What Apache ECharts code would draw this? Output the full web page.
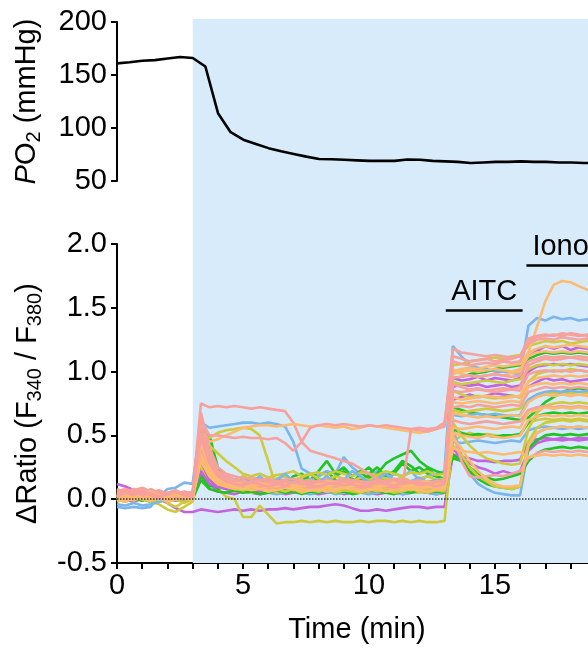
<!DOCTYPE html>
<html>
<head>
<meta charset="utf-8">
<title>PO2 and calcium ratio traces</title>
<script src="https://cdn.jsdelivr.net/npm/echarts/dist/echarts.min.js"></script>
<style>
  html, body { margin: 0; padding: 0; overflow: hidden; background: #fff; }
  #chart { width: 640px; height: 648px; }
</style>
</head>
<body>
<div id="chart"></div>
<script>
// oxygen trace (top panel)
const poTime = [0,0.5,1,1.5,2,2.5,3,3.5,4,4.5,5,5.5,6,6.5,7,7.5,8,8.5,9,9.5,10,10.5,11,11.5,12,12.5,13,13.5,14,14.5,15,15.5,16,16.5,17,17.5,18,18.5,19];
const poValue = [161,162,163.5,164,165.5,167,166,158,114,96,89,85,81,78,75.5,73,70.7,70.5,70,69.5,69,69,69,70.3,70,69,68.5,68,67,67.5,68,68,68.5,68,68,67.5,67.5,67,67];

// sample times of the ratio traces (min)
const time = [0,0.33,0.67,1,1.33,1.67,2,2.33,2.67,3,
  3.33,3.67,4,4.33,4.67,5,5.33,5.67,6,6.33,
  6.67,7,7.33,7.67,8,8.33,8.67,9,9.33,9.67,
  10,10.33,10.67,11,11.33,11.67,12,12.33,12.67,13,
  13.33,13.67,14,14.33,14.67,15,15.33,15.67,16,
  16.33,16.67,17,17.33,17.67,18,18.33,18.67,19];

// one array per cell
const blue1 = [-0.06,-0.07,-0.06,-0.07,-0.06,0.02,0.08,0.09,0.13,0.12,
  0.6,0.56,0.57,0.58,0.59,0.6,0.6,0.59,0.6,0.59,
  0.57,0.45,0.24,0.2,0.18,0.22,0.2,0.33,0.25,0.2,
  0.17,0.22,0.15,0.2,0.18,0.22,0.15,0.18,0.2,0.22,
  1.2,1.12,1.05,1.03,1.02,1.0,1.0,0.99,0.98,
  1.36,1.42,1.4,1.43,1.41,1.42,1.4,1.41,1.4];
const orange2 = [0.02,0.03,0.01,0.02,0,0.03,0.02,0.01,0.03,0.02,
  0.32,0.2,0.15,0.12,0.1,0.12,0.1,0.09,0.11,0.1,
  0.12,0.1,0.08,0.1,0.12,0.1,0.09,0.11,0.1,0.12,
  0.1,0.08,0.1,0.11,0.09,0.1,0.12,0.1,0.11,0.12,
  1.0,1.02,1.03,1.02,1.04,1.05,1.04,1.05,1.06,
  1.15,1.35,1.55,1.68,1.71,1.7,1.67,1.64,1.63];
const pink3 = [0.04,0.06,0.08,0.05,0.03,0.06,0.04,0.02,0.05,0.03,
  0.75,0.72,0.73,0.72,0.73,0.72,0.71,0.72,0.71,0.7,
  0.69,0.6,0.45,0.38,0.36,0.34,0.32,0.3,0.28,0.24,
  0.2,0.16,0.13,0.12,0.1,0.12,0.1,0.11,0.09,0.1,
  0.9,0.88,0.86,0.87,0.85,0.86,0.87,0.86,0.88,
  1.05,1.08,1.1,1.09,1.1,1.11,1.1,1.09,1.1];
const orange4 = [0,0.01,-0.01,0.02,0,0.01,-0.02,0,0.01,0,
  0.5,0.45,0.47,0.5,0.53,0.56,0.57,0.58,0.58,0.57,
  0.58,0.59,0.58,0.57,0.58,0.57,0.56,0.57,0.55,0.56,
  0.58,0.57,0.56,0.55,0.54,0.53,0.52,0.53,0.55,0.58,
  1.02,0.98,0.97,0.96,0.97,0.98,0.97,0.99,1.0,
  1.15,1.18,1.2,1.19,1.2,1.21,1.2,1.19,1.2];
const pink5 = [0.02,0,0.03,0.05,0.02,0,0.03,0.01,0,0.02,
  0.4,0.25,0.18,0.15,0.12,0.1,0.12,0.1,0.11,0.09,
  0.1,0.12,0.1,0.09,0.1,0.11,0.1,0.12,0.1,0.09,
  0.1,0.11,0.1,0.09,0.1,0.55,0.56,0.55,0.56,0.6,
  1.12,1.1,1.08,1.09,1.1,1.08,1.09,1.1,1.12,
  1.22,1.25,1.26,1.25,1.27,1.26,1.25,1.26,1.25];
const pink6 = [0.06,0.08,0.05,0.07,0.04,0.06,0.03,0.05,0.04,0.06,
  0.62,0.5,0.5,0.49,0.48,0.49,0.48,0.48,0.47,0.48,
  0.44,0.38,0.45,0.56,0.58,0.59,0.58,0.59,0.58,0.57,
  0.58,0.57,0.58,0.57,0.56,0.55,0.54,0.53,0.55,0.57,
  1.18,1.15,1.14,1.13,1.12,1.13,1.12,1.11,1.12,
  1.26,1.28,1.29,1.28,1.3,1.29,1.28,1.29,1.28];
const yellow7 = [0,0.02,0.04,0.01,-0.02,0,0.03,0,-0.03,0,
  0.45,0.48,0.52,0.54,0.55,0.56,0.55,0.5,0.3,0.08,
  0.06,0.08,0.05,0.07,0.06,0.08,0.05,0.07,0.06,0.05,
  0.08,0.06,0.07,0.05,0.06,0.08,0.06,0.05,0.07,0.06,
  0.85,0.82,0.8,0.81,0.8,0.79,0.8,0.81,0.8,
  0.92,0.98,1.0,1.01,1.0,1.02,1.01,1.0,1.01];
const yellow8 = [0.03,0.01,0,0.02,-0.02,-0.04,-0.08,-0.1,-0.06,-0.02,
  0.3,0.15,0.08,0.02,0,-0.14,-0.14,-0.05,-0.12,-0.19,
  -0.18,-0.18,-0.17,-0.18,-0.17,-0.18,-0.17,-0.18,-0.18,-0.17,
  -0.18,-0.17,-0.17,-0.18,-0.17,-0.18,-0.17,-0.18,-0.18,-0.17,
  0.45,0.5,0.52,0.5,0.51,0.5,0.49,0.5,0.5,
  0.6,0.62,0.63,0.62,0.63,0.62,0.63,0.62,0.62];
const purple9 = [0.12,0.1,0.07,0.04,0.02,0,-0.03,-0.07,-0.1,-0.1,
  -0.08,-0.09,-0.1,-0.09,-0.08,-0.09,-0.08,-0.09,-0.08,-0.08,
  -0.07,-0.08,-0.07,-0.06,-0.06,-0.05,-0.04,-0.05,-0.07,-0.09,
  -0.09,-0.08,-0.09,-0.08,-0.07,-0.06,-0.06,-0.07,-0.06,-0.06,
  0.35,0.33,0.32,0.3,0.3,0.29,0.3,0.3,0.31,
  0.45,0.47,0.48,0.47,0.48,0.47,0.48,0.48,0.47];
const green10 = [0,0.02,-0.01,0.01,0.03,0,-0.02,0.01,0,0.02,
  0.55,0.5,0.25,0.15,0.12,0.1,0.13,0.1,0.12,0.15,
  0.12,0.18,0.2,0.15,0.22,0.3,0.2,0.25,0.18,0.22,
  0.15,0.2,0.28,0.32,0.35,0.38,0.3,0.25,0.22,0.2,
  0.55,0.52,0.5,0.51,0.5,0.49,0.5,0.5,0.51,
  0.6,0.65,0.67,0.68,0.67,0.68,0.67,0.68,0.67];
const green11 = [-0.01,0,0.02,0,-0.02,0.01,0,0.02,-0.01,0,
  0.2,0.12,0.08,0.1,0.06,0.08,0.1,0.05,0.08,0.12,
  0.15,0.1,0.08,0.12,0.18,0.22,0.15,0.1,0.12,0.2,
  0.25,0.18,0.15,0.2,0.28,0.22,0.25,0.2,0.18,0.15,
  0.32,0.3,0.25,0.2,0.17,0.15,0.16,0.18,0.2,
  0.3,0.36,0.39,0.4,0.41,0.4,0.41,0.4,0.4];
const blue12 = [0,-0.02,0.01,0,0.02,-0.01,0,0.02,0.01,0,
  0.4,0.25,0.15,0.12,0.1,0.08,0.1,0.09,0.08,0.1,
  0.09,0.08,0.1,0.09,0.08,0.1,0.09,0.1,0.08,0.09,
  0.1,0.08,0.09,0.1,0.08,0.09,0.1,0.08,0.09,0.1,
  0.55,0.35,0.2,0.12,0.08,0.05,0.04,0.03,0.03,
  0.4,0.52,0.55,0.56,0.55,0.56,0.55,0.56,0.55];
const purple13 = [0.02,0.05,0.03,0,0.02,0.04,0.01,0.03,0,0.02,
  0.55,0.3,0.2,0.18,0.15,0.16,0.14,0.15,0.13,0.14,
  0.15,0.13,0.12,0.14,0.13,0.12,0.14,0.13,0.12,0.13,
  0.14,0.12,0.13,0.12,0.14,0.13,0.12,0.13,0.14,0.12,
  0.88,0.9,0.89,0.9,0.88,0.89,0.9,0.88,0.89,
  1.0,1.04,1.05,1.06,1.05,1.06,1.05,1.04,1.05];
const purple14 = [0,0.03,0.01,-0.01,0.02,0,0.03,0.01,0.02,0,
  0.3,0.15,0.1,0.08,0.07,0.09,0.08,0.06,0.08,0.07,
  0.09,0.08,0.07,0.06,0.08,0.07,0.09,0.08,0.06,0.07,
  0.08,0.09,0.07,0.08,0.06,0.07,0.08,0.07,0.09,0.08,
  0.95,0.93,0.94,0.96,0.93,0.95,0.94,0.93,0.95,
  1.12,1.16,1.2,1.18,1.2,1.17,1.19,1.18,1.17];
const purple15 = [0.01,0,-0.02,0.01,0,0.02,0,-0.01,0.01,0,
  0.22,0.12,0.1,0.11,0.09,0.1,0.12,0.1,0.11,0.1,
  0.09,0.11,0.1,0.12,0.1,0.11,0.09,0.1,0.12,0.11,
  0.1,0.09,0.11,0.1,0.12,0.1,0.11,0.09,0.1,0.11,
  0.78,0.8,0.82,0.8,0.81,0.83,0.82,0.81,0.8,
  0.88,0.92,0.95,0.93,0.94,0.92,0.93,0.94,0.93];
const purple16 = [0.03,0,0.02,0.04,0.01,0,0.02,0.03,0,0.02,
  0.25,0.12,0.06,0.05,0.04,0.06,0.05,0.04,0.05,0.06,
  0.04,0.05,0.06,0.05,0.04,0.05,0.06,0.04,0.05,0.06,
  0.05,0.04,0.05,0.06,0.04,0.05,0.06,0.05,0.04,0.05,
  0.4,0.32,0.28,0.25,0.23,0.2,0.22,0.2,0.22,
  0.38,0.44,0.46,0.47,0.46,0.47,0.46,0.47,0.46];
const yellow17 = [0.02,0.04,0.01,0.03,0.05,0.02,0,0.04,0.02,0.01,
  0.35,0.2,0.14,0.12,0.1,0.11,0.12,0.1,0.13,0.11,
  0.12,0.1,0.11,0.13,0.12,0.1,0.11,0.12,0.1,0.11,
  0.13,0.12,0.1,0.11,0.12,0.1,0.11,0.13,0.12,0.12,
  1.05,1.06,1.08,1.09,1.1,1.11,1.1,1.12,1.13,
  1.2,1.22,1.24,1.23,1.24,1.22,1.23,1.24,1.23];
const yellow18 = [0.05,0.02,0,0.03,0.05,0.02,-0.02,0,0.03,0.01,
  0.3,0.18,0.12,0.1,0.08,0.07,0.09,0.08,0.06,0.08,
  0.1,0.07,0.09,0.08,0.06,0.08,0.07,0.09,0.08,0.1,
  0.07,0.08,0.06,0.09,0.08,0.07,0.09,0.08,0.1,0.08,
  0.6,0.5,0.42,0.36,0.32,0.3,0.28,0.27,0.28,
  0.55,0.68,0.73,0.75,0.76,0.75,0.76,0.75,0.76];
const yellow19 = [-0.02,0,0.03,0.01,0,-0.02,0.01,0.03,0,-0.01,
  0.45,0.42,0.36,0.3,0.25,0.2,0.18,0.2,0.17,0.19,
  0.2,0.22,0.18,0.2,0.21,0.19,0.22,0.2,0.18,0.21,
  0.2,0.19,0.22,0.2,0.18,0.21,0.2,0.22,0.19,0.2,
  0.7,0.68,0.69,0.7,0.71,0.7,0.69,0.7,0.71,
  0.78,0.82,0.84,0.83,0.84,0.83,0.84,0.83,0.84];
const green20 = [0.01,-0.01,0,0.02,0,-0.02,0.01,0,0.02,0,
  0.15,0.08,0.06,0.05,0.07,0.05,0.06,0.04,0.05,0.07,
  0.05,0.06,0.04,0.06,0.05,0.07,0.05,0.06,0.04,0.05,
  0.07,0.06,0.05,0.04,0.06,0.05,0.07,0.05,0.06,0.05,
  0.95,0.96,0.98,0.99,1.0,1.02,1.03,1.04,1.05,
  1.1,1.13,1.15,1.14,1.15,1.14,1.15,1.14,1.15];
const green21 = [0,0.02,0,-0.01,0.01,0.03,0,0.01,-0.01,0,
  0.3,0.2,0.15,0.12,0.1,0.14,0.1,0.12,0.15,0.1,
  0.08,0.12,0.1,0.14,0.12,0.1,0.13,0.11,0.12,0.15,
  0.18,0.15,0.12,0.1,0.13,0.11,0.12,0.14,0.12,0.1,
  0.72,0.7,0.68,0.67,0.66,0.65,0.64,0.63,0.62,
  0.64,0.7,0.76,0.8,0.84,0.86,0.87,0.86,0.87];
const orange22 = [0.03,0.01,0.04,0.02,0,0.03,0.05,0.02,0.01,0.03,
  0.42,0.25,0.16,0.13,0.12,0.1,0.11,0.12,0.1,0.09,
  0.11,0.1,0.12,0.11,0.1,0.09,0.11,0.12,0.1,0.11,
  0.1,0.09,0.12,0.1,0.11,0.1,0.12,0.11,0.1,0.11,
  0.68,0.66,0.65,0.64,0.65,0.64,0.65,0.66,0.65,
  0.76,0.8,0.82,0.81,0.82,0.81,0.82,0.81,0.82];
const orange23 = [0.01,0.03,0,0.02,0.04,0.01,0.03,0,0.02,0.01,
  0.38,0.22,0.15,0.12,0.1,0.08,0.1,0.09,0.07,0.08,
  0.1,0.09,0.08,0.1,0.07,0.09,0.08,0.1,0.09,0.07,
  0.08,0.09,0.1,0.08,0.07,0.09,0.08,0.1,0.09,0.08,
  0.52,0.5,0.49,0.48,0.5,0.49,0.48,0.49,0.5,
  0.62,0.65,0.66,0.65,0.66,0.65,0.66,0.65,0.66];
const orange24 = [0.04,0.02,0.05,0.03,0.01,0.04,0.02,0,0.03,0.02,
  0.5,0.3,0.2,0.16,0.14,0.12,0.13,0.11,0.12,0.13,
  0.11,0.12,0.1,0.11,0.13,0.12,0.1,0.11,0.12,0.13,
  0.11,0.1,0.12,0.11,0.13,0.12,0.11,0.1,0.12,0.11,
  0.48,0.4,0.3,0.22,0.16,0.12,0.1,0.1,0.11,
  0.42,0.52,0.55,0.56,0.57,0.56,0.57,0.56,0.57];
const orange25 = [0,-0.02,0.01,0,-0.01,0.02,0,0.03,0.01,-0.01,
  0.36,0.2,0.14,0.1,0.09,0.11,0.1,0.08,0.1,0.09,
  0.11,0.1,0.09,0.08,0.1,0.11,0.09,0.1,0.08,0.09,
  0.11,0.1,0.09,0.1,0.08,0.11,0.09,0.1,0.11,0.09,
  0.8,0.78,0.79,0.8,0.81,0.8,0.79,0.8,0.81,
  0.92,0.95,0.96,0.97,0.96,0.97,0.96,0.97,0.96];
const orange26 = [0.02,0,0.03,0.01,-0.01,0.02,0.04,0.01,0,0.02,
  0.3,0.18,0.12,0.1,0.08,0.09,0.07,0.08,0.06,0.07,
  0.09,0.08,0.06,0.07,0.08,0.06,0.07,0.09,0.08,0.06,
  0.07,0.08,0.06,0.07,0.09,0.08,0.07,0.06,0.08,0.07,
  0.4,0.38,0.37,0.36,0.37,0.36,0.35,0.36,0.37,
  0.33,0.34,0.35,0.34,0.35,0.34,0.35,0.34,0.35];
const pink27 = [0.06,0.04,0.07,0.09,0.06,0.03,0.05,0.07,0.04,0.05,
  0.35,0.2,0.12,0.1,0.11,0.09,0.1,0.11,0.09,0.1,
  0.12,0.1,0.09,0.11,0.1,0.09,0.1,0.12,0.1,0.09,
  0.11,0.1,0.12,0.1,0.09,0.11,0.1,0.09,0.11,0.1,
  0.52,0.3,0.18,0.17,0.18,0.19,0.18,0.2,0.22,
  0.32,0.36,0.38,0.37,0.38,0.37,0.38,0.37,0.38];
const pink28 = [0.05,0.03,0.06,0.04,0.08,0.05,0.02,0.04,0.06,0.04,
  0.68,0.4,0.25,0.2,0.18,0.16,0.17,0.15,0.16,0.14,
  0.15,0.16,0.14,0.15,0.13,0.15,0.14,0.16,0.15,0.14,
  0.13,0.15,0.14,0.16,0.15,0.14,0.15,0.13,0.14,0.15,
  1.08,1.06,1.05,1.06,1.07,1.06,1.08,1.07,1.08,
  1.24,1.27,1.28,1.29,1.28,1.3,1.29,1.28,1.29];
const pink29 = [0.03,0.06,0.04,0.02,0.05,0.07,0.04,0.02,0.05,0.03,
  0.45,0.28,0.18,0.15,0.12,0.13,0.11,0.12,0.1,0.12,
  0.11,0.13,0.12,0.1,0.11,0.12,0.13,0.11,0.1,0.12,
  0.11,0.13,0.12,0.11,0.1,0.12,0.11,0.13,0.12,0.11,
  0.72,0.73,0.72,0.74,0.73,0.72,0.73,0.74,0.73,
  0.84,0.86,0.88,0.87,0.88,0.87,0.88,0.87,0.88];
const pink30 = [0.08,0.05,0.03,0.06,0.04,0.02,0.05,0.03,0.01,0.04,
  0.52,0.3,0.2,0.16,0.14,0.12,0.14,0.13,0.12,0.14,
  0.13,0.12,0.14,0.13,0.12,0.13,0.14,0.12,0.13,0.14,
  0.12,0.13,0.12,0.14,0.13,0.12,0.14,0.13,0.12,0.13,
  0.62,0.6,0.59,0.6,0.61,0.6,0.59,0.6,0.61,
  0.7,0.72,0.73,0.72,0.73,0.72,0.73,0.72,0.73];
const blue31 = [-0.04,-0.05,-0.03,-0.05,-0.04,-0.02,0,0.03,0.05,0.04,
  0.35,0.2,0.15,0.18,0.12,0.15,0.13,0.18,0.12,0.15,
  0.2,0.14,0.12,0.16,0.13,0.18,0.12,0.15,0.22,0.18,
  0.13,0.16,0.2,0.15,0.12,0.14,0.17,0.13,0.15,0.14,
  0.66,0.65,0.66,0.67,0.66,0.67,0.66,0.65,0.66,
  0.78,0.82,0.84,0.85,0.84,0.85,0.84,0.85,0.84];
const blue32 = [0,0.02,-0.01,0,0.01,-0.02,0,0.01,0,0.02,
  0.3,0.18,0.1,0.08,0.07,0.06,0.05,0.06,0.05,0.04,
  0.05,0.06,0.05,0.04,0.05,0.06,0.04,0.05,0.06,0.05,
  0.04,0.05,0.06,0.05,0.04,0.05,0.06,0.05,0.04,0.05,
  0.45,0.44,0.45,0.46,0.45,0.44,0.45,0.46,0.45,
  0.54,0.56,0.57,0.56,0.57,0.56,0.57,0.56,0.57];
const yellow33 = [0.04,0.02,0.05,0.03,0,0.02,0.04,0.01,0.03,0.05,
  0.32,0.2,0.15,0.16,0.14,0.18,0.15,0.17,0.14,0.16,
  0.18,0.15,0.17,0.2,0.16,0.15,0.18,0.16,0.14,0.17,
  0.15,0.18,0.16,0.15,0.17,0.14,0.16,0.18,0.15,0.16,
  0.92,0.9,0.91,0.92,0.93,0.92,0.91,0.93,0.94,
  1.02,1.05,1.06,1.05,1.06,1.05,1.06,1.05,1.06];
const orange34 = [0.01,0.03,0.02,0,0.02,0.04,0.01,0.02,0,0.03,
  0.4,0.22,0.14,0.12,0.11,0.1,0.12,0.11,0.1,0.12,
  0.11,0.1,0.12,0.11,0.1,0.11,0.12,0.1,0.11,0.12,
  0.1,0.11,0.12,0.1,0.11,0.12,0.1,0.11,0.12,0.11,
  0.98,1.0,1.01,1.0,1.01,1.02,1.01,1.0,1.02,
  1.12,1.15,1.16,1.15,1.16,1.15,1.16,1.15,1.16];
const pink35 = [0.02,0.05,0.03,0.06,0.03,0.01,0.04,0.06,0.03,0.02,
  0.58,0.35,0.22,0.18,0.15,0.14,0.13,0.15,0.14,0.12,
  0.14,0.13,0.15,0.12,0.14,0.13,0.12,0.14,0.15,0.13,
  0.12,0.14,0.13,0.15,0.12,0.14,0.13,0.12,0.14,0.13,
  0.85,0.84,0.85,0.86,0.85,0.84,0.85,0.86,0.85,
  0.98,1.0,1.01,1.0,1.01,1.0,1.01,1.0,1.01];
const yellow36 = [0,-0.02,0.01,-0.01,0,0.02,-0.03,-0.06,-0.02,0,
  0.25,0.14,0.1,0.08,0.06,0.07,0.05,0.06,0.08,0.05,
  0.07,0.06,0.05,0.07,0.06,0.08,0.05,0.06,0.07,0.05,
  0.06,0.08,0.06,0.05,0.07,0.06,0.05,0.07,0.06,0.05,
  0.42,0.35,0.25,0.18,0.14,0.1,0.09,0.08,0.1,
  0.45,0.56,0.6,0.61,0.62,0.61,0.62,0.61,0.62];
const orange37 = [0.03,0,0.02,0.04,0.02,0,0.01,0.03,0.02,0,
  0.45,0.26,0.17,0.14,0.12,0.11,0.1,0.12,0.11,0.1,
  0.12,0.11,0.1,0.12,0.11,0.1,0.12,0.11,0.1,0.11,
  0.12,0.1,0.11,0.12,0.1,0.11,0.12,0.1,0.11,0.12,
  0.56,0.55,0.56,0.57,0.56,0.55,0.56,0.57,0.56,
  0.68,0.7,0.72,0.71,0.72,0.71,0.72,0.71,0.72];
const green38 = [0.01,0,-0.02,0.01,0.03,0,0.02,-0.01,0,0.01,
  0.18,0.1,0.12,0.08,0.1,0.14,0.08,0.12,0.1,0.16,
  0.12,0.1,0.14,0.2,0.15,0.12,0.18,0.22,0.16,0.12,
  0.2,0.25,0.18,0.22,0.3,0.26,0.2,0.24,0.18,0.16,
  0.35,0.3,0.22,0.16,0.12,0.1,0.09,0.08,0.1,
  0.4,0.46,0.5,0.51,0.5,0.51,0.5,0.51,0.5];
const pink39 = [0.05,0.08,0.06,0.03,0.05,0.02,0.04,0.06,0.03,0.05,
  0.48,0.28,0.18,0.14,0.12,0.11,0.13,0.12,0.1,0.12,
  0.11,0.13,0.12,0.11,0.1,0.12,0.13,0.11,0.12,0.1,
  0.11,0.13,0.12,0.11,0.12,0.13,0.11,0.12,0.1,0.12,
  0.95,0.96,0.97,0.96,0.97,0.98,0.97,0.96,0.97,
  1.08,1.1,1.12,1.11,1.12,1.11,1.12,1.11,1.12];
const orange40 = [0.02,0.04,0.01,0.03,0.06,0.03,0.01,0.04,0.02,0.03,
  0.44,0.25,0.16,0.13,0.12,0.14,0.12,0.13,0.11,0.12,
  0.14,0.12,0.13,0.11,0.12,0.14,0.13,0.12,0.11,0.13,
  0.12,0.14,0.12,0.13,0.11,0.12,0.13,0.14,0.12,0.13,
  0.76,0.75,0.76,0.77,0.76,0.75,0.76,0.77,0.76,
  0.88,0.9,0.91,0.9,0.91,0.9,0.91,0.9,0.91];

const xTicks = [0, 5, 10, 15, 20];

const colors = {
  blue: '#7ab6ec',
  orange: '#fdba70',
  pink: '#f7a19c',
  yellow: '#cfc93c',
  green: '#22c422',
  purple: '#c462df'
};

// drawing order, first is at the bottom
const traces = [
  ['purple9', purple9, 'purple'], ['yellow8', yellow8, 'yellow'], ['blue12', blue12, 'blue'],
  ['green11', green11, 'green'], ['purple16', purple16, 'purple'], ['blue32', blue32, 'blue'],
  ['green38', green38, 'green'], ['yellow36', yellow36, 'yellow'], ['blue1', blue1, 'blue'],
  ['purple13', purple13, 'purple'], ['purple14', purple14, 'purple'], ['purple15', purple15, 'purple'],
  ['green10', green10, 'green'], ['green20', green20, 'green'], ['green21', green21, 'green'],
  ['yellow7', yellow7, 'yellow'], ['yellow17', yellow17, 'yellow'], ['yellow18', yellow18, 'yellow'],
  ['yellow19', yellow19, 'yellow'], ['yellow33', yellow33, 'yellow'], ['blue31', blue31, 'blue'],
  ['orange2', orange2, 'orange'], ['pink3', pink3, 'pink'], ['orange4', orange4, 'orange'],
  ['orange22', orange22, 'orange'], ['pink27', pink27, 'pink'], ['orange23', orange23, 'orange'],
  ['orange24', orange24, 'orange'], ['pink29', pink29, 'pink'], ['orange25', orange25, 'orange'],
  ['orange26', orange26, 'orange'], ['pink30', pink30, 'pink'], ['orange34', orange34, 'orange'],
  ['pink5', pink5, 'pink'], ['orange37', orange37, 'orange'], ['pink6', pink6, 'pink'],
  ['pink28', pink28, 'pink'], ['orange40', orange40, 'orange'], ['pink35', pink35, 'pink'],
  ['pink39', pink39, 'pink']
];

const FONT = "'Liberation Sans', Arial, Helvetica, sans-serif";
const FS = 29;
const black = '#000';

const badTraces = traces.filter(t => t[1].length !== time.length).map(t => t[0] + ':' + t[1].length);

const chart = echarts.init(document.getElementById('chart'));

const traceSeries = traces.map(([name, values, c]) => ({
  name: name,
  type: 'line',
  xAxisIndex: 1,
  yAxisIndex: 1,
  data: time.map((t, i) => [t, values[i]]),
  showSymbol: false,
  symbol: 'none',
  silent: true,
  z: 3,
  lineStyle: { color: colors[c], width: 2.6 }
}));

const subRich = {
  i: { fontStyle: 'italic', fontSize: FS, fontFamily: FONT, color: black },
  s: { fontSize: 20, fontFamily: FONT, color: black, padding: [14, 0, 0, 0] }
};

const option = {
  animation: false,
  textStyle: { fontFamily: FONT },
  title: { show: badTraces.length > 0, text: badTraces.join(' '), top: 200, left: 150, textStyle: { color: 'red' } },
  grid: [
    { left: 117, width: 505, top: 22, height: 159 },
    { left: 117, width: 505, top: 244, height: 319 },
    { left: 117, width: 505, top: 19, height: 544 }
  ],
  xAxis: [
    { gridIndex: 0, type: 'value', min: 0, max: 20, show: false },
    {
      gridIndex: 1, type: 'value', min: xTicks[0], max: xTicks[xTicks.length - 1], interval: 5,
      axisLine: { show: true, onZero: false, lineStyle: { color: black, width: 2 } },
      axisTick: { show: true, length: 6, lineStyle: { color: black, width: 2 } },
      minorTick: { show: true, splitNumber: 5, length: 6, lineStyle: { color: black, width: 2 } },
      splitLine: { show: false },
      axisLabel: { fontSize: FS, color: black, margin: 8, fontFamily: FONT },
      name: 'Time (min)', nameLocation: 'middle', nameGap: 52,
      nameTextStyle: { fontSize: FS, color: black, fontFamily: FONT, padding: [0, 24, 0, 0] }
    },
    { gridIndex: 2, type: 'value', min: 0, max: 20, show: false }
  ],
  yAxis: [
    {
      gridIndex: 0, type: 'value', min: 50, max: 200, interval: 50,
      axisLine: { show: true, lineStyle: { color: black, width: 2 } },
      axisTick: { show: true, length: 6, lineStyle: { color: black, width: 2 } },
      splitLine: { show: false },
      axisLabel: { fontSize: FS, color: black, margin: 10, fontFamily: FONT },
      name: '{i|P}O{s|2} (mmHg)', nameLocation: 'middle', nameRotate: 90, nameGap: 73,
      nameTextStyle: { fontSize: FS, color: black, fontFamily: FONT, rich: subRich }
    },
    {
      gridIndex: 1, type: 'value', min: -0.5, max: 2.0, interval: 0.5,
      axisLine: { show: true, lineStyle: { color: black, width: 2 } },
      axisTick: { show: true, length: 6, lineStyle: { color: black, width: 2 } },
      splitLine: { show: false },
      axisLabel: { fontSize: FS, color: black, margin: 10, fontFamily: FONT, formatter: v => v.toFixed(1) },
      name: 'ΔRatio (F{s|340} / F{s|380})', nameLocation: 'middle', nameRotate: 90, nameGap: 72,
      nameTextStyle: { fontSize: FS, color: black, fontFamily: FONT, rich: subRich }
    },
    { gridIndex: 2, type: 'value', min: 0, max: 1, show: false }
  ],
  series: [
    {
      // blue background for the hypoxia period
      type: 'line', xAxisIndex: 2, yAxisIndex: 2, data: [[0, 0]], symbol: 'none', silent: true,
      lineStyle: { opacity: 0 }, z: 0,
      markArea: { silent: true, itemStyle: { color: '#d7ebfb' }, data: [[{ xAxis: 3 }, { xAxis: 20 }]] }
    },
    {
      type: 'line', xAxisIndex: 0, yAxisIndex: 0,
      data: poTime.map((t, i) => [t, poValue[i]]),
      symbol: 'none', silent: true, z: 3,
      lineStyle: { color: black, width: 2.6 }
    },
    {
      // dotted zero line
      type: 'line', xAxisIndex: 1, yAxisIndex: 1, data: [], symbol: 'none', silent: true, z: 2,
      markLine: {
        silent: true, symbol: ['none', 'none'], label: { show: false },
        lineStyle: { color: '#333', type: 'dotted', width: 1.5 },
        data: [{ yAxis: 0 }]
      }
    },
    ...traceSeries,
    {
      // treatment bars
      type: 'line', xAxisIndex: 1, yAxisIndex: 1, data: [], symbol: 'none', silent: true, z: 4,
      markLine: {
        silent: true, symbol: ['none', 'none'],
        lineStyle: { color: black, type: 'solid', width: 2.6 },
        label: { show: true, formatter: '{b}', fontSize: FS, color: black, fontFamily: FONT, position: 'insideMiddleTop', distance: 4 },
        data: [
          [{ name: 'AITC', coord: [13.05, 1.48] }, { coord: [16.1, 1.48] }],
          [{ name: 'Iono', coord: [16.25, 1.83], label: { position: 'insideStartTop', distance: [6, 4] } }, { coord: [20, 1.83] }]
        ]
      }
    }
  ]
};

chart.setOption(option);
</script>
</body>
</html>
